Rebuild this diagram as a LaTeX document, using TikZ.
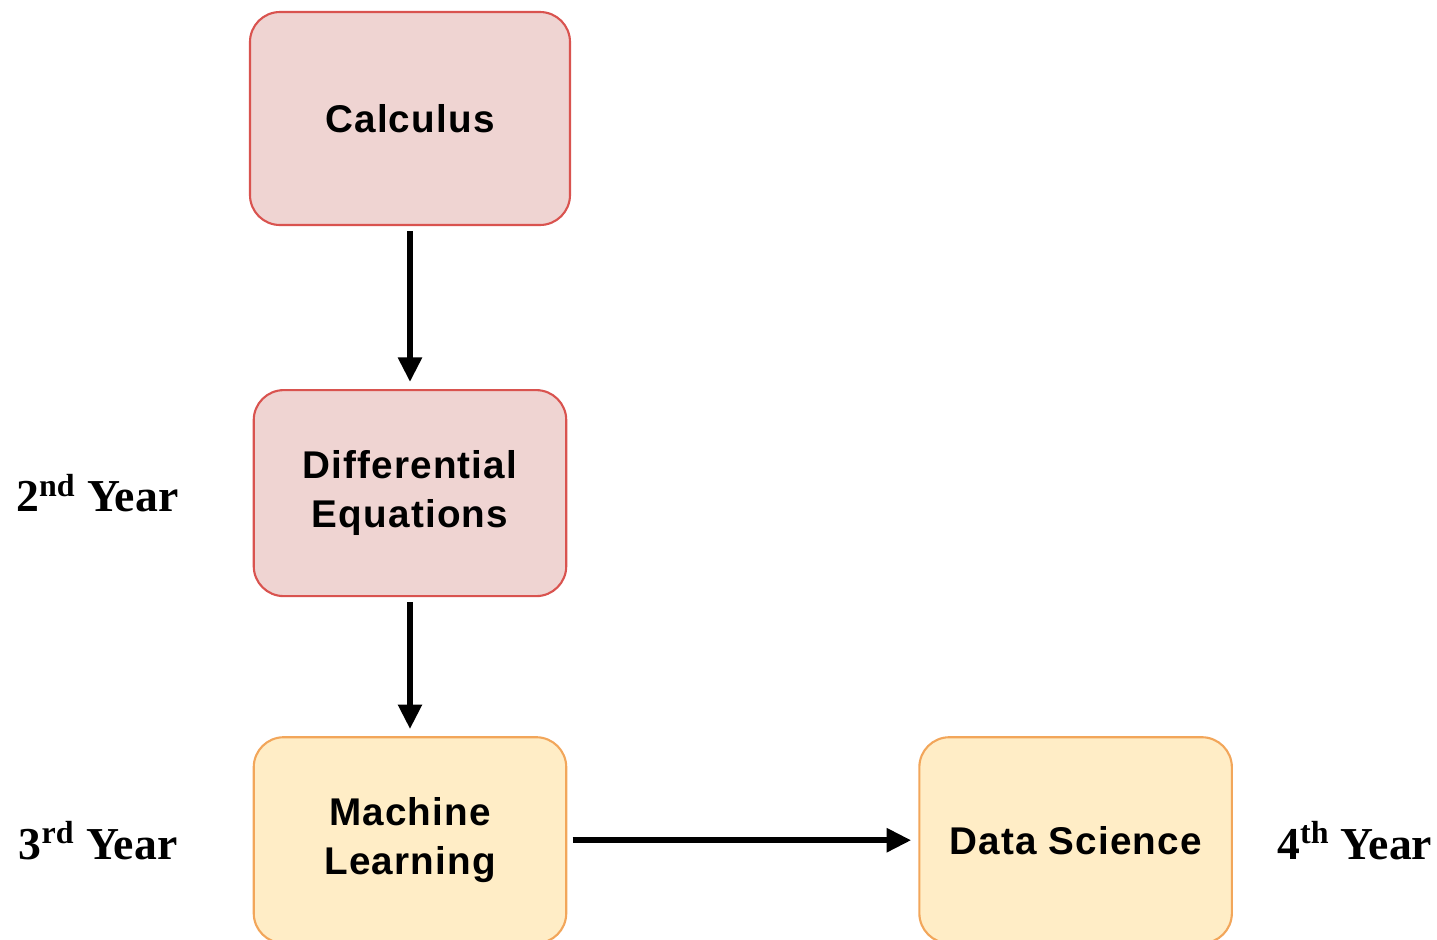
\documentclass[tikz,border=0pt]{standalone}
\usepackage{fontspec}
\setmainfont{Liberation Serif}
\newfontfamily\boxfont[LetterSpace=3]{Liberation Sans}
\usepackage{xcolor}
\definecolor{crsRed}{HTML}{D9534F}
\definecolor{crsPink}{HTML}{EFD4D2}
\definecolor{crsOrange}{HTML}{F2A65A}
\definecolor{crsCream}{HTML}{FFEDC6}
\usepackage{tikz}
\usetikzlibrary{positioning,arrows.meta}
\tikzset{course/.style={rectangle, rounded corners=0.6cm, line width=1.2pt, minimum width=6.25cm, minimum height=4.12cm, align=center, font=\boxfont\bfseries\fontsize{22}{27.5}\selectfont}}
\tikzset{math course/.style={course, draw=crsRed, fill=crsPink}}
\tikzset{cs course/.style={course, draw=crsOrange, fill=crsCream}}
\tikzset{year/.style={inner sep=0pt, font=\bfseries\fontsize{26}{30}\selectfont}}
\tikzset{prereq/.style={-{Triangle[length=14pt,width=13pt]}, line width=3.4pt, shorten <=3pt, shorten >=4pt}}
\begin{document}
\begin{tikzpicture}
\useasboundingbox (-8.2,2.37) rectangle (20.54,-16.41);
\node[math course, minimum width=6.4cm, minimum height=4.26cm](calc){Calculus};
\node[math course](diffeq)[below=3.26cm of calc]{Differential\\Equations};
\node[cs course](ml)[below=2.78cm of diffeq]{Machine\\Learning};
\node[cs course](ds)[right=7.02cm of ml]{Data Science};
\node[year](second)[left=1.48cm of diffeq]{2\textsuperscript{nd} Year};
\node[year](third)[left=1.5cm of ml]{3\textsuperscript{rd} Year};
\node[year](fourth)[right=0.88cm of ds]{4\textsuperscript{th} Year};
\draw[prereq] (calc) -- (diffeq);
\draw[prereq] (diffeq) -- (ml);
\draw[prereq] (ml) -- (ds);
\end{tikzpicture}
\end{document}
